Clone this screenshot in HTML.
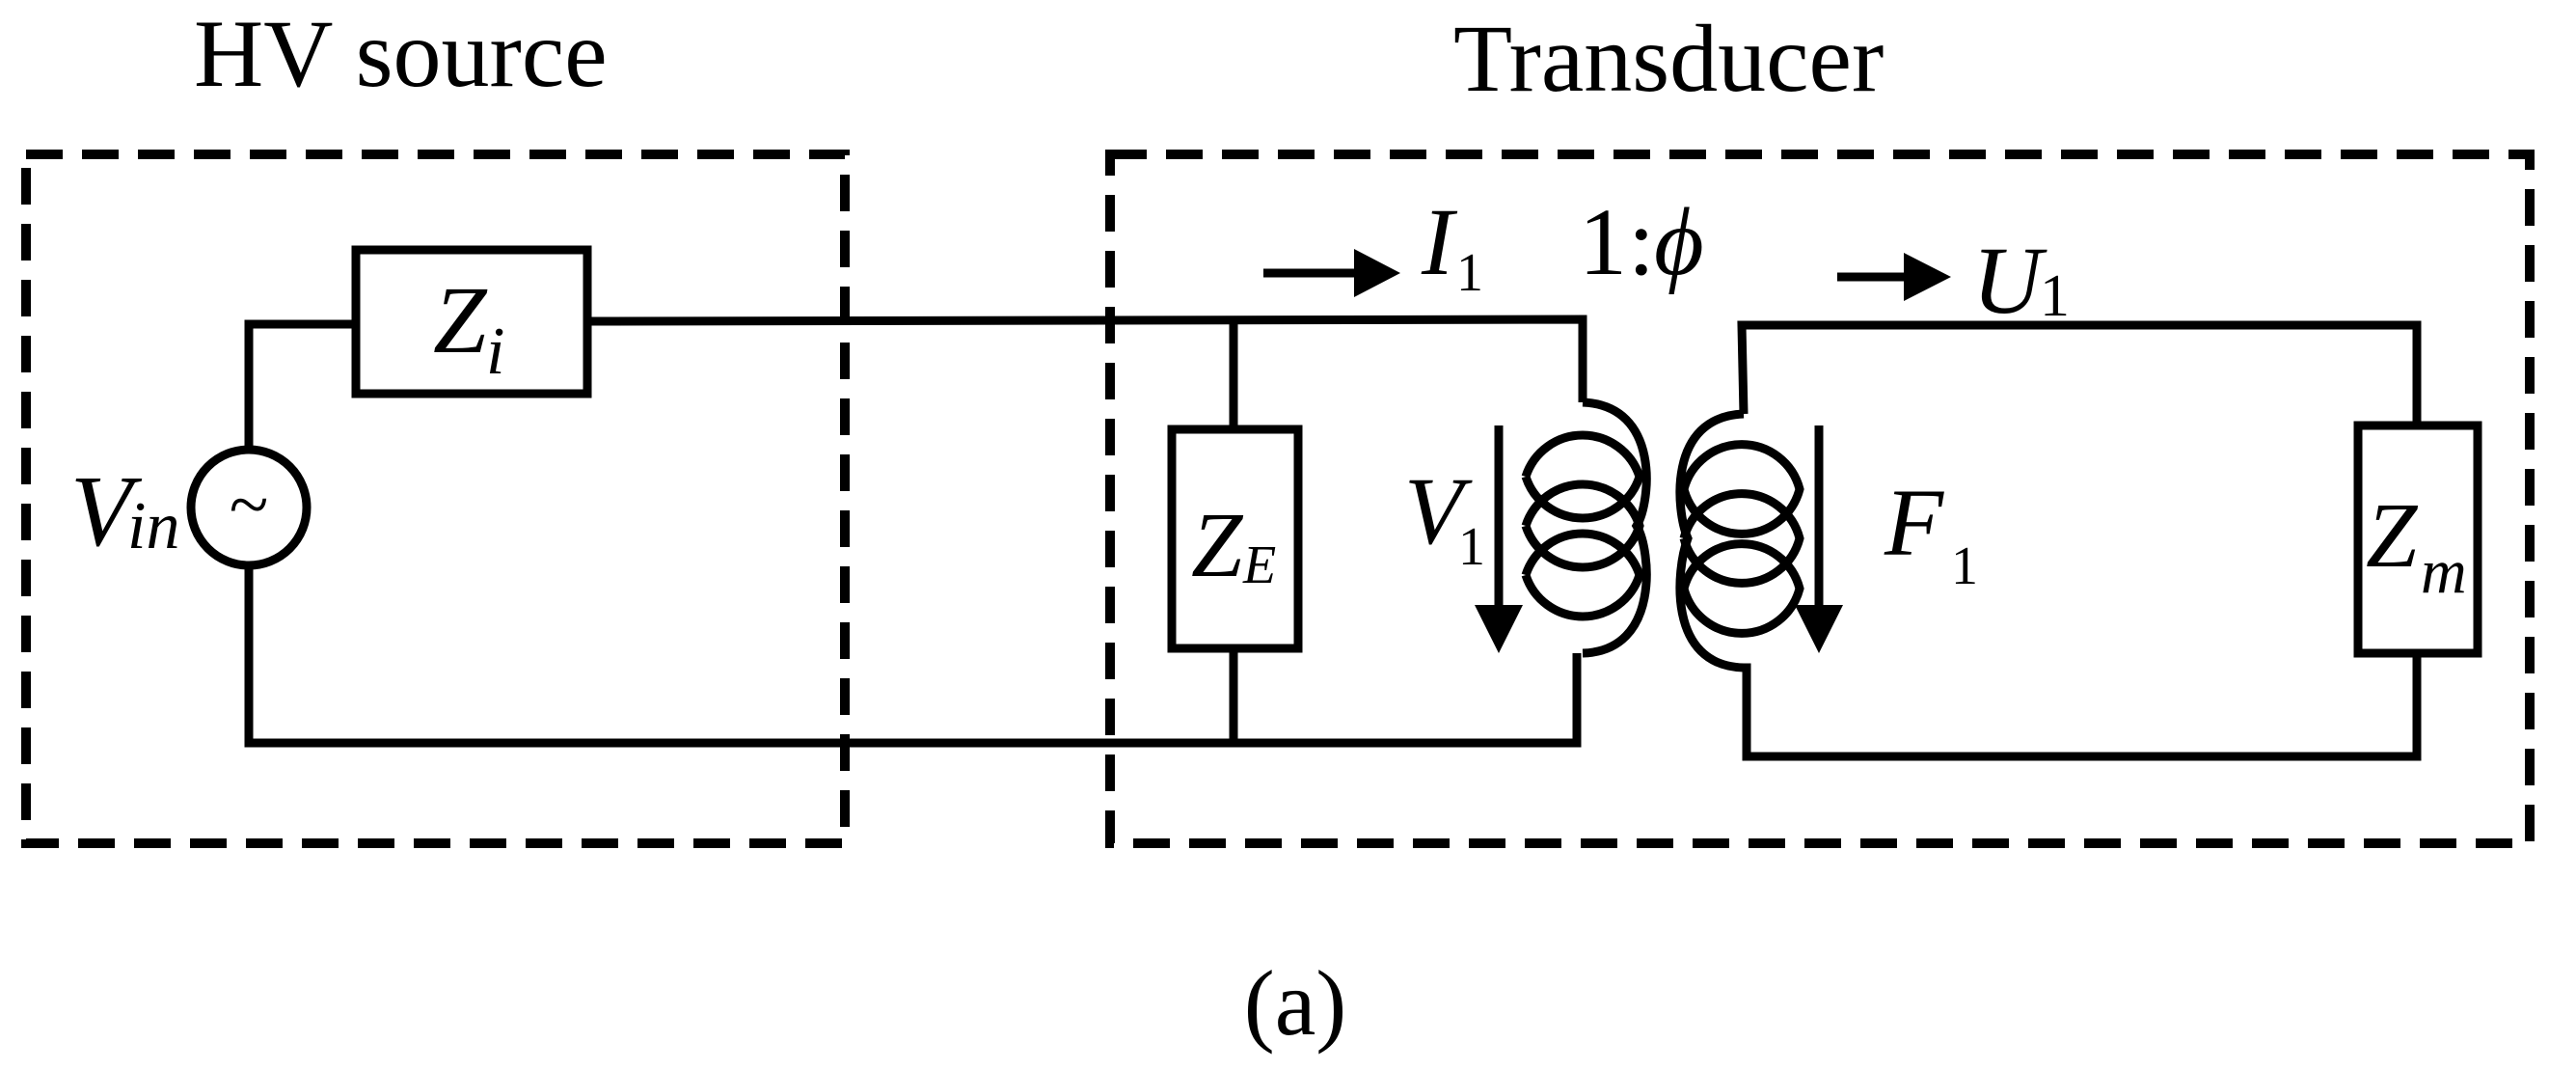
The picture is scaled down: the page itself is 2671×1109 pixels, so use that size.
<!DOCTYPE html>
<html><head><style>
html,body{margin:0;padding:0;background:#fff;}
svg{display:block;}
text{font-family:"Liberation Serif",serif;fill:#000;}
.it{font-style:italic;}
</style></head><body>
<svg width="2671" height="1109" viewBox="0 0 2671 1109" xmlns="http://www.w3.org/2000/svg">
<g fill="none" stroke="#000" stroke-width="10" stroke-dasharray="38 20">
<rect x="27" y="160" width="849" height="714"/>
<rect x="1151" y="160" width="1472" height="714"/>
</g>
<g fill="none" stroke="#000" stroke-width="9">
<polyline points="369,336 258,336 258,466"/>
<polyline points="258,586 258,770 1635,770 1635,677"/>
<polyline points="609,333 1641,331 1641,417"/>
<rect x="369" y="259" width="240" height="149"/>
<circle cx="258" cy="526" r="60"/>
<line x1="1279" y1="333" x2="1279" y2="445"/>
<line x1="1279" y1="672" x2="1279" y2="770"/>
<rect x="1215" y="445" width="131" height="227"/>
<path d="M1641,417 C1722,420 1712,520 1697,545 C1712,570 1722,675 1641,677"/>
<path d="M1582,494 A62,62 0 0 1 1700,494 A62,62 0 0 1 1582,494"/>
<path d="M1582,545 A62,62 0 0 1 1700,545 A62,62 0 0 1 1582,545"/>
<path d="M1582,596 A62,62 0 0 1 1700,596 A62,62 0 0 1 1582,596"/>
<polyline points="1808,429 1806,337 2506,337 2506,441"/>
<polyline points="1808,692 1811,692 1811,784 2506,784 2506,677"/>
<path d="M1808,429 C1728,432 1738,530 1750,558 C1738,590 1728,690 1808,692"/>
<path d="M1746,507 A62,62 0 0 1 1866,507 A62,62 0 0 1 1746,507"/>
<path d="M1746,558 A62,62 0 0 1 1866,558 A62,62 0 0 1 1746,558"/>
<path d="M1746,610 A62,62 0 0 1 1866,610 A62,62 0 0 1 1746,610"/>
<rect x="2445" y="441" width="124" height="236"/>
<line x1="1310" y1="283" x2="1410" y2="283"/>
<line x1="1905" y1="287" x2="1980" y2="287"/>
<line x1="1554" y1="441" x2="1554" y2="630"/>
<line x1="1886" y1="441" x2="1886" y2="630"/>
</g>
<g fill="#000">
<polygon points="1404,258 1452,283 1404,308"/>
<polygon points="1974,262 2023,287 1974,312"/>
<polygon points="1529,627 1579,627 1554,677"/>
<polygon points="1861,627 1911,627 1886,677"/>
</g>
<text x="201" y="89" font-size="100">HV source</text>
<text x="1507" y="94" font-size="100">Transducer</text>
<text x="1343" y="1072" font-size="96" text-anchor="middle">(a)</text>
<text x="258" y="548" font-size="75" text-anchor="middle">~</text>
<text x="73" y="565" font-size="105" class="it">V</text>
<text x="132" y="568" font-size="70" class="it">in</text>
<text x="449" y="365" font-size="100" class="it">Z</text>
<text x="504" y="387" font-size="70" class="it">i</text>
<text x="1235" y="597" font-size="96" class="it">Z</text>
<text x="1289" y="604" font-size="56" class="it">E</text>
<text x="1474" y="284" font-size="100" class="it">I</text>
<text x="1510" y="301" font-size="56">1</text>
<text x="1637" y="284" font-size="100">1</text>
<text x="1688" y="284" font-size="100">:</text>
<text x="1715" y="284" font-size="100" class="it">ϕ</text>
<text x="1456" y="563" font-size="100" class="it">V</text>
<text x="1512" y="585" font-size="56">1</text>
<text x="1954" y="575" font-size="100" class="it">F</text>
<text x="2023" y="605" font-size="56">1</text>
<text x="2045" y="324" font-size="100" class="it">U</text>
<text x="2115" y="327" font-size="62">1</text>
<text x="2453" y="587" font-size="96" class="it">Z</text>
<text x="2510" y="614" font-size="66" class="it">m</text>
</svg>
</body></html>
